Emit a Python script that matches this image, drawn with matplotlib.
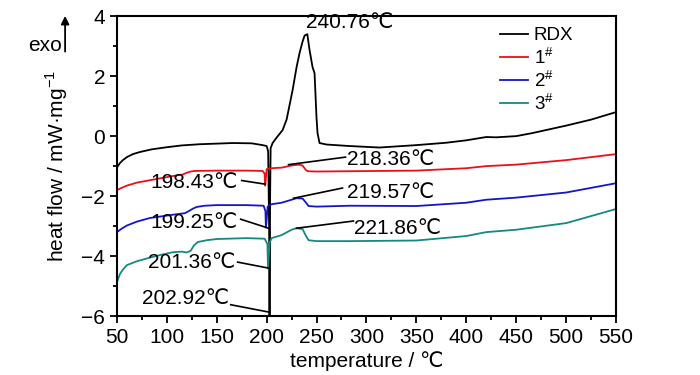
import matplotlib
matplotlib.use("Agg")
import matplotlib.pyplot as plt
from matplotlib.ticker import MultipleLocator

plt.rcParams['font.family'] = ['Liberation Sans Narrow', 'Liberation Sans', 'DejaVu Sans']
plt.rcParams['mathtext.fontset'] = 'custom'
plt.rcParams['mathtext.rm'] = 'Liberation Sans'

# ---------------- data ----------------
T_rdx = [50, 53, 56, 60, 66, 73, 85, 100, 115, 133, 150, 166, 185, 196, 200, 201.5, 202.5, 202.92,
         203.5, 204, 206, 210, 216, 220, 226, 230, 233, 236, 238, 240.76, 243, 246, 248, 250, 251,
         253, 260, 283, 313, 350, 380, 400, 420, 430, 450, 466, 500, 525, 550]
V_rdx = [-1.05, -0.9, -0.8, -0.7, -0.6, -0.53, -0.44, -0.37, -0.31, -0.27, -0.25, -0.23, -0.24,
         -0.3, -0.33, -0.5, -3.0, -6.0, -2.0, -0.4, -0.23, -0.05, 0.2, 0.55, 1.53, 2.3, 2.77,
         3.15, 3.35, 3.4, 2.87, 2.3, 2.1, 0.6, 0.1, -0.23, -0.28, -0.33, -0.38, -0.3, -0.22, -0.14,
         -0.03, -0.04, 0.0, 0.1, 0.35, 0.55, 0.8]

T_1 = [50, 55, 60, 70, 83, 106, 116, 120, 124, 128, 150, 180, 196, 198.0, 198.43, 198.8, 200, 205,
       215, 225, 232, 236, 239, 241, 250, 283, 350, 400, 420, 450, 500, 550]
V_1 = [-1.8, -1.72, -1.65, -1.55, -1.47, -1.33, -1.28, -1.22, -1.18, -1.16, -1.15, -1.15, -1.16,
       -1.25, -1.65, -1.6, -1.1, -1.07, -1.05, -0.98, -0.95, -0.98, -1.12, -1.17, -1.18, -1.17,
       -1.15, -1.07, -1.0, -0.95, -0.8, -0.6]

T_2 = [50, 55, 60, 70, 83, 106, 118, 122, 126, 130, 138, 150, 180, 197, 198.8, 199.25, 199.8, 201,
       205, 215, 225, 230, 236, 239, 242, 250, 283, 350, 400, 420, 450, 500, 550]
V_2 = [-3.2, -3.08, -2.98, -2.85, -2.73, -2.62, -2.57, -2.5, -2.42, -2.36, -2.32, -2.3, -2.3, -2.32,
       -2.5, -3.05, -2.9, -2.35, -2.27, -2.22, -2.12, -2.07, -2.08, -2.2, -2.33, -2.35, -2.32,
       -2.33, -2.22, -2.12, -2.05, -1.88, -1.57]

T_3 = [50, 53, 56, 60, 70, 83, 95, 106, 115, 120, 124, 127, 131, 140, 150, 180, 198, 200.8, 201.36,
       201.8, 203, 205, 215, 225, 230, 236, 239, 242, 250, 283, 350, 400, 420, 450, 500, 550]
V_3 = [-4.87, -4.6, -4.45, -4.3, -4.17, -4.05, -3.95, -3.87, -3.85, -3.88, -3.82, -3.65, -3.53,
       -3.47, -3.43, -3.4, -3.42, -3.6, -4.42, -4.2, -3.55, -3.4, -3.3, -3.12, -3.07, -3.1, -3.3,
       -3.47, -3.5, -3.5, -3.48, -3.33, -3.2, -3.12, -2.9, -2.43]

labels = ['RDX', '1$^{\\#}$', '2$^{\\#}$', '3$^{\\#}$']
colors = ['#000000', '#e8101a', '#1515c8', '#138a80']

# annotation texts, positions (text xy) and leader lines (start, end)
ann_text = ['218.36℃', '198.43℃', '219.57℃', '199.25℃', '221.86℃', '201.36℃', '202.92℃']
ann_txy = [(281, -0.78), (171, -1.53), (281, -1.87), (171, -2.88), (288, -3.07), (169, -4.2), (162, -5.42)]
ann_ha = ['left', 'right', 'left', 'right', 'left', 'right', 'right']
ann_line = [((279, -0.7), (222, -0.95)),
            ((175, -1.48), (198.4, -1.6)),
            ((276, -1.73), (227, -2.07)),
            ((174, -2.77), (202, -3.07)),
            ((287, -2.83), (230, -3.07)),
            ((171, -4.2), (202, -4.4)),
            ((164, -5.62), (203, -5.87))]

# ---------------- plot ----------------
fig = plt.figure(figsize=(7, 3.75), dpi=100)
ax = fig.add_axes([0.167, 0.157, 0.713, 0.8])

for T, V, lab, c in zip([T_rdx, T_1, T_2, T_3], [V_rdx, V_1, V_2, V_3], labels, colors):
    ax.plot(T, V, color=c, lw=1.3, label=lab)

ax.text(283, 3.78, '240.76℃', fontsize=15, ha='center', va='center')
for txt, (tx, ty), ha, (p0, p1) in zip(ann_text, ann_txy, ann_ha, ann_line):
    ax.text(tx, ty, txt, fontsize=15, ha=ha, va='center')
    ax.plot([p0[0], p1[0]], [p0[1], p1[1]], color='black', lw=1.2)

ax.set_xlim(50, 550)
ax.set_ylim(-6, 4)
ax.xaxis.set_major_locator(MultipleLocator(50))
ax.xaxis.set_minor_locator(MultipleLocator(25))
ax.yaxis.set_major_locator(MultipleLocator(2))
ax.yaxis.set_minor_locator(MultipleLocator(1))
ax.tick_params(which='both', direction='out', labelsize=15, width=1.3)
ax.tick_params(which='major', length=5)
ax.tick_params(which='minor', length=3)
for s in ax.spines.values():
    s.set_linewidth(1.5)

ax.set_xlabel('temperature / ℃', fontsize=15, labelpad=3)
ax.set_ylabel('heat flow / mW·mg$^{-1}$', fontsize=15, labelpad=8)

leg = ax.legend(loc='upper left', bbox_to_anchor=(0.745, 1.0), frameon=False, fontsize=13.5,
                handlelength=1.5, handletextpad=0.3, labelspacing=0.12, borderaxespad=0.2)

fig.text(0.089, 0.878, 'exo', fontsize=15, ha='right', va='center')
fig.add_artist(matplotlib.patches.FancyArrowPatch((0.093, 0.855), (0.093, 0.965),
               transform=fig.transFigure, arrowstyle='-|>', mutation_scale=12, lw=1.3, color='black'))

fig.savefig('out.png', dpi=100)
